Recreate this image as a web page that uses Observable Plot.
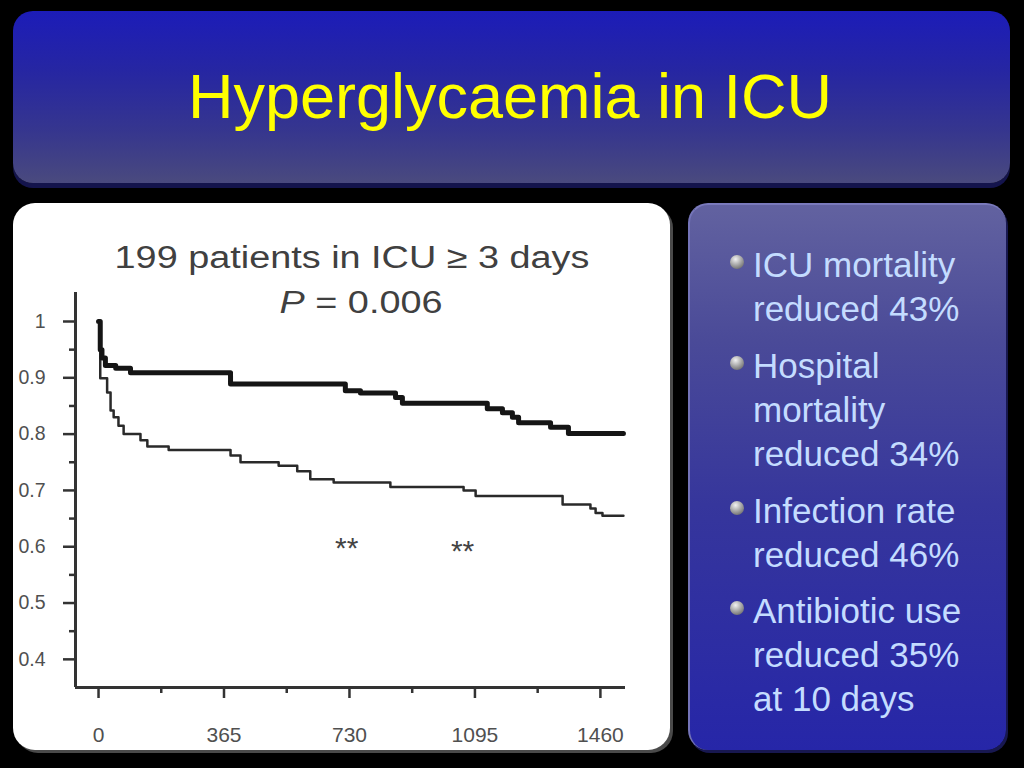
<!DOCTYPE html>
<html>
<head>
<meta charset="utf-8">
<script src="https://cdn.jsdelivr.net/npm/d3@7"></script>
<script src="https://cdn.jsdelivr.net/npm/@observablehq/plot@0.6"></script>
<style>
  html, body { margin: 0; padding: 0; background: #000; }
  #page { position: relative; width: 1024px; height: 768px; overflow: hidden; background: #000;
          font-family: "Liberation Sans", Arial, Helvetica, sans-serif; }
  #titleBox { position: absolute; left: 13px; top: 11px; width: 997px; height: 172px; border-radius: 20px;
              background: linear-gradient(to bottom, #1c1cb8 0%, #2626a2 35%, #36368e 70%, #4a4a7e 100%);
              box-shadow: 0 5px 0 #14144c; }
  #title { position: absolute; left: 510px; top: 65px; transform: translateX(-50%); white-space: nowrap;
           font-size: 63px; line-height: 63px; color: #ffff00; }
  #chartPanel { position: absolute; left: 13px; top: 203px; width: 657px; height: 547px; border-radius: 22px;
                background: #fff; box-shadow: 3px 3px 0 #4a4a4a; }
  #chart { position: absolute; left: 13px; top: 203px; width: 657px; height: 547px; }
  #chart svg text { font-size: 19.5px !important; }
  #chart svg .xlab text { font-size: 21px !important; }
  #chart svg .stars text { font-size: 30px !important; }
  .sub { position: absolute; transform: translateX(-50%) scaleX(1.22); white-space: nowrap; font-size: 31px; line-height: 31px; color: #404040; }
  #rightPanel { position: absolute; left: 688px; top: 203px; width: 318px; height: 547px; border-radius: 20px; box-sizing: border-box;
                background: linear-gradient(to bottom, #6262a0 0%, #4a4a98 25%, #36369c 55%, #2626a8 100%);
                border-left: 2px solid #7474b8; border-top: 2px solid #7a7abc; box-shadow: 2px 3px 0 #181850; }
  .para { position: absolute; left: 753px; font-size: 35px; line-height: 44px; color: #c4dcff; white-space: nowrap; }
  .bullet { position: absolute; left: 730px; width: 14px; height: 14px; border-radius: 50%;
            background: radial-gradient(circle at 40% 30%, #f2f2f2 0%, #a8a8a8 45%, #505050 100%); }
</style>
</head>
<body>
<div id="page">
  <div id="titleBox"></div>
  <div id="title">Hyperglycaemia in ICU</div>
  <div id="chartPanel"></div>
  <div id="chart"></div>
  <div class="sub" style="left:352px; top:242px;">199 patients in ICU ≥ 3 days</div>
  <div class="sub" style="left:361px; top:287px;"><i>P</i> = 0.006</div>
  <div id="rightPanel"></div>
  <div id="bullets"></div>
</div>
<script>
// ---- data ----
const intensiveDays     = [0, 5, 10, 20, 50, 93, 384, 718, 762, 864, 884, 1131, 1175, 1204, 1222, 1315, 1367, 1527];
const intensiveSurvival = [1.0, 0.95, 0.935, 0.922, 0.917, 0.909, 0.889, 0.877, 0.873, 0.865, 0.855, 0.845, 0.838, 0.830, 0.820, 0.812, 0.801, 0.801];

const conventionalDays     = [0, 5, 25, 35, 44, 58, 73, 122, 142, 204, 384, 413, 524, 578, 616, 684, 849, 1062, 1097, 1350, 1431, 1446, 1466, 1527];
const conventionalSurvival = [1.0, 0.899, 0.874, 0.842, 0.830, 0.815, 0.800, 0.789, 0.778, 0.772, 0.762, 0.750, 0.744, 0.734, 0.720, 0.714, 0.706, 0.700, 0.690, 0.675, 0.668, 0.660, 0.655, 0.655];

const yTickValues  = [0.4, 0.5, 0.6, 0.7, 0.8, 0.9, 1];
const yMinorTicks  = [0.45, 0.55, 0.65, 0.75, 0.85, 0.95];
const xTickValues  = [0, 365, 730, 1095, 1460];
const xMinorTicks  = [182.5, 547.5, 912.5, 1277.5];

const starDays   = [722, 1059];
const starLevels = [0.611, 0.606];
const starLabels = ["**", "**"];

const bulletTexts = [
  ["ICU mortality", "reduced 43%"],
  ["Hospital", "mortality", "reduced 34%"],
  ["Infection rate", "reduced 46%"],
  ["Antibiotic use", "reduced 35%", "at 10 days"]
];

// ---- build tables ----
const intensive = intensiveDays.map((d, i) => ({day: d, s: intensiveSurvival[i]}));
const conventional = conventionalDays.map((d, i) => ({day: d, s: conventionalSurvival[i]}));
const stars = starDays.map((d, i) => ({day: d, s: starLevels[i], label: starLabels[i]}));

const xDomain = [-67, 1533];
const yDomain = [0.35, 1.0515];

const plot = Plot.plot({
  width: 657,
  height: 547,
  marginLeft: 62,
  marginRight: 45,
  marginTop: 89,
  marginBottom: 63,
  style: {background: "transparent", fontFamily: "Liberation Sans, Arial, sans-serif", overflow: "visible"},
  x: {domain: xDomain, label: null},
  y: {domain: yDomain, label: null},
  marks: [
    Plot.axisY(yTickValues, {anchor: "left", label: null, tickSize: 12, tickPadding: 18, tickFormat: d => String(d),
                             fill: "#505050", stroke: "#333", strokeWidth: 2.5}),
    Plot.axisY(yMinorTicks, {anchor: "left", label: null, tickSize: 6, tickFormat: () => "", stroke: "#333", strokeWidth: 2.5}),
    Plot.axisX(xTickValues, {anchor: "bottom", label: null, tickSize: 11, tickPadding: 29, tickFormat: d => String(d),
                             fill: "#505050", stroke: "#333", strokeWidth: 2.5, className: "xlab"}),
    Plot.axisX(xMinorTicks, {anchor: "bottom", label: null, tickSize: 6, tickFormat: () => "", stroke: "#333", strokeWidth: 2.5}),
    Plot.ruleX([xDomain[0]], {stroke: "#333", strokeWidth: 3}),
    Plot.ruleY([yDomain[0]], {stroke: "#333", strokeWidth: 3}),
    Plot.line(conventional, {x: "day", y: "s", curve: "step-after", stroke: "#2a2a2a", strokeWidth: 2.5}),
    Plot.line(intensive, {x: "day", y: "s", curve: "step-after", stroke: "#151515", strokeWidth: 5}),
    Plot.text(stars, {x: "day", y: "s", text: "label", fontSize: 30, fill: "#444", dy: 8, className: "stars"})
  ]
});
document.getElementById("chart").appendChild(plot);

// ---- bullet list ----
const paraTops = [243, 344, 489, 589];
const bl = document.getElementById("bullets");
bulletTexts.forEach((lines, i) => {
  const p = document.createElement("div");
  p.className = "para";
  p.style.top = paraTops[i] + "px";
  p.innerHTML = lines.join("<br>");
  bl.appendChild(p);
  const b = document.createElement("div");
  b.className = "bullet";
  b.style.top = (paraTops[i] + 12) + "px";
  bl.appendChild(b);
});
</script>
</body>
</html>
